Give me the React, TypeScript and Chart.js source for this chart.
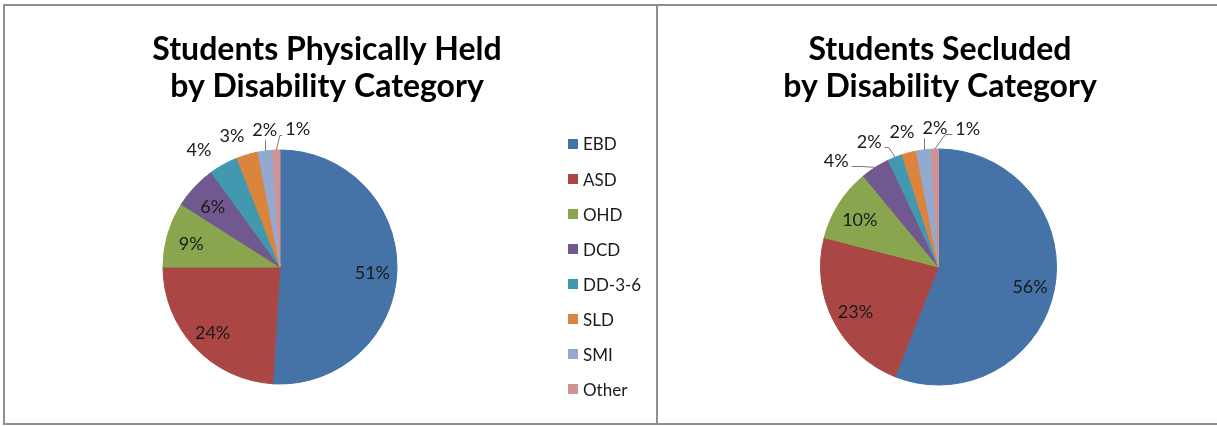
import React, { useEffect, useRef } from "react";
import { Chart, registerables } from "chart.js";

Chart.register(...registerables);

// ---- data ----
const categories = ["EBD", "ASD", "OHD", "DCD", "DD-3-6", "SLD", "SMI", "Other"];
const heldValues = [51, 24, 9, 6, 4, 3, 2, 1];
const secludedValues = [56, 23, 10, 4, 2, 2, 2, 1];
const heldTitle = ["Students Physically Held", "by Disability Category"];
const secludedTitle = ["Students Secluded", "by Disability Category"];
const sliceColors = ["#4572A7", "#AA4643", "#89A54E", "#71588F", "#4198AF", "#DB843D", "#93A9CF", "#D19392"];

const FONT = "Lato, Carlito, Calibri, 'Open Sans', sans-serif";

// ---- plugins ----
const pieLabels = {
  id: "pieLabels",
  afterDatasetsDraw(chart: any, _args: any, opts: any) {
    if (!opts || !opts.show) return;
    const ctx: CanvasRenderingContext2D = chart.ctx;
    const meta = chart.getDatasetMeta(0);
    const data = chart.data.datasets[0].data as number[];
    const total = data.reduce((a, b) => a + b, 0);
    ctx.save();
    ctx.font = `${opts.fontSize}px ${FONT}`;
    ctx.fillStyle = opts.color;
    ctx.textAlign = "center";
    ctx.textBaseline = "middle";
    const outside: any[] = [];
    meta.data.forEach((arc: any, i: number) => {
      const p = arc.getProps(["x", "y", "startAngle", "endAngle", "outerRadius"], true);
      const mid = (p.startAngle + p.endAngle) / 2;
      const pct = Math.round((data[i] / total) * 100);
      const text = pct + "%";
      if (pct >= opts.insideMin) {
        const d = p.outerRadius * opts.insideRatio;
        ctx.fillText(text, p.x + Math.cos(mid) * d, p.y + Math.sin(mid) * d + opts.insideDy);
      } else {
        const R = p.outerRadius * opts.ringRatio;
        outside.push({
          text,
          mid,
          cx: p.x,
          cy: p.y,
          r: p.outerRadius,
          R,
          nx: p.x + Math.cos(mid) * R,
          ny: p.y + Math.sin(mid) * R,
          w: ctx.measureText(text).width,
        });
      }
    });
    if (outside.length) {
      outside.sort((a, b) => a.nx - b.nx);
      const spacing = Math.max(...outside.map((o) => o.w)) + opts.labelGap;
      let groups = outside.map((o) => ({ items: [o] }));
      const centerOf = (g: any) => g.items.reduce((s: number, o: any) => s + o.nx, 0) / g.items.length;
      const leftOf = (g: any) => centerOf(g) - ((g.items.length - 1) / 2) * spacing;
      const rightOf = (g: any) => centerOf(g) + ((g.items.length - 1) / 2) * spacing;
      let merged = true;
      while (merged) {
        merged = false;
        for (let i = 1; i < groups.length; i++) {
          if (rightOf(groups[i - 1]) + spacing > leftOf(groups[i])) {
            groups[i - 1] = { items: groups[i - 1].items.concat(groups[i].items) };
            groups.splice(i, 1);
            merged = true;
            break;
          }
        }
      }
      groups.forEach((g) => {
        const l = leftOf(g);
        g.items.forEach((o: any, k: number) => {
          o.lx = l + k * spacing;
        });
      });
      const hh = 8;
      const boxDist = (o: any, ly: number, px: number, py: number) => {
        const bl = o.lx - 12, br = o.lx + 12;
        const nxp = Math.min(Math.max(px, bl), br);
        const nyp = Math.min(Math.max(py, ly - hh), ly + hh);
        return Math.hypot(px - nxp, py - nyp);
      };
      outside.forEach((o) => {
        const dx = o.lx - o.cx;
        const sgn = Math.sin(o.mid) < 0 ? -1 : 1;
        const ringY = o.cy + sgn * Math.sqrt(Math.max(o.R * o.R - dx * dx, 0));
        o.ly = (ringY + o.ny) / 2;
        ctx.fillStyle = opts.color;
        ctx.fillText(o.text, o.lx, o.ly);
        const px = o.cx + Math.cos(o.mid) * o.r;
        const py = o.cy + Math.sin(o.mid) * o.r;
        const bl = o.lx - o.w / 2, br = o.lx + o.w / 2, bb = o.ly + hh;
        if (boxDist(o, ringY, px, py) > opts.leaderThreshold) {
          ctx.strokeStyle = opts.leaderColor;
          ctx.lineWidth = 1;
          ctx.beginPath();
          if (px >= bl && px <= br) {
            ctx.moveTo(Math.round(px) + 0.5, py);
            ctx.lineTo(Math.round(px) + 0.5, bb + 2);
          } else {
            const toRight = o.lx > px;
            const ex = toRight ? bl - 3 : br + 3;
            const ey = Math.round(o.ly + 5) + 0.5;
            const elbow = Math.min(10, Math.abs(px - ex) * 0.4);
            const elx = toRight ? ex - elbow : ex + elbow;
            ctx.moveTo(px, py);
            ctx.lineTo(elx, ey);
            ctx.lineTo(ex, ey);
          }
          ctx.stroke();
        }
      });
    }
    ctx.restore();
  },
};

const sideLegend = {
  id: "sideLegend",
  afterDraw(chart: any, _args: any, opts: any) {
    if (!opts || !opts.show) return;
    const ctx: CanvasRenderingContext2D = chart.ctx;
    const labels = chart.data.labels as string[];
    const cols = chart.data.datasets[0].backgroundColor as string[];
    ctx.save();
    ctx.font = `${opts.fontSize}px ${FONT}`;
    ctx.textAlign = "left";
    ctx.textBaseline = "middle";
    labels.forEach((lab, i) => {
      const yc = opts.top + i * opts.step;
      ctx.fillStyle = cols[i];
      ctx.fillRect(opts.left, Math.round(yc - opts.box / 2), opts.box, opts.box);
      ctx.fillStyle = opts.color;
      ctx.fillText(lab, opts.left + opts.box + opts.gap, yc + 1);
    });
    ctx.restore();
  },
};

const centerTitle = {
  id: "centerTitle",
  afterDraw(chart: any, _args: any, opts: any) {
    if (!opts || !opts.text) return;
    const ctx: CanvasRenderingContext2D = chart.ctx;
    ctx.save();
    ctx.font = `bold ${opts.fontSize}px ${FONT}`;
    ctx.fillStyle = opts.color;
    ctx.textAlign = "center";
    ctx.textBaseline = "alphabetic";
    (opts.text as string[]).forEach((line, i) => {
      ctx.fillText(line, chart.width / 2, opts.baseline + i * opts.lineHeight);
    });
    ctx.restore();
  },
};

function makeConfig(values: number[], title: string[], padding: any, radius: number, legend: boolean): any {
  return {
    type: "pie",
    data: {
      labels: categories,
      datasets: [
        {
          data: values,
          backgroundColor: sliceColors,
          borderColor: sliceColors,
          borderWidth: 1,
        },
      ],
    },
    plugins: [pieLabels, sideLegend, centerTitle],
    options: {
      responsive: false,
      animation: false,
      radius,
      layout: { padding },
      plugins: {
        legend: { display: false },
        tooltip: { enabled: false },
        title: { display: false },
        centerTitle: { text: title, fontSize: 32, baseline: 60, lineHeight: 37, color: "#000" },
        pieLabels: {
          show: true,
          fontSize: 18,
          color: "#1a1a1a",
          insideMin: 5,
          insideRatio: 0.79,
          insideDy: 3,
          ringRatio: 1.18,
          labelGap: 8,
          leaderThreshold: 13,
          leaderColor: "#7a7a7a",
        },
        sideLegend: legend
          ? { show: true, left: 568, top: 144, step: 35.05, box: 10, gap: 5, fontSize: 17, color: "#1a1a1a" }
          : { show: false },
      },
    },
  };
}

function PieCanvas(props: { values: number[]; title: string[]; padding: any; radius: number; legend: boolean; width: number; height: number; style: any }) {
  const ref = useRef<HTMLCanvasElement | null>(null);
  useEffect(() => {
    if (!ref.current) return;
    const chart = new Chart(ref.current, makeConfig(props.values, props.title, props.padding, props.radius, props.legend));
    return () => chart.destroy();
  }, []);
  return <canvas ref={ref} width={props.width} height={props.height} style={{ position: "absolute", display: "block", ...props.style }} />;
}

const border = "#8f8f8f";

export default function App() {
  return (
    <div style={{ position: "absolute", left: 0, top: 0, width: 1217, height: 426, background: "#fff", overflow: "hidden" }}>
      <PieCanvas
        values={heldValues}
        title={heldTitle}
        padding={{ left: 10, right: 104, top: 114, bottom: 6 }}
        radius={117}
        legend={true}
        width={654}
        height={426}
        style={{ left: 0, top: 0, width: 654, height: 426 }}
      />
      <PieCanvas
        values={secludedValues}
        title={secludedTitle}
        padding={{ left: 0, right: 3, top: 114, bottom: 6 }}
        radius={118}
        legend={false}
        width={554}
        height={426}
        style={{ left: 663, top: 0, width: 554, height: 426 }}
      />
      <div style={{ position: "absolute", left: 3, top: 4, width: 1214, height: 2, background: border }} />
      <div style={{ position: "absolute", left: 3, top: 4, width: 2, height: 421, background: border }} />
      <div style={{ position: "absolute", left: 656, top: 4, width: 2, height: 421, background: border }} />
      <div style={{ position: "absolute", left: 3, top: 423, width: 1214, height: 2, background: border }} />
    </div>
  );
}
